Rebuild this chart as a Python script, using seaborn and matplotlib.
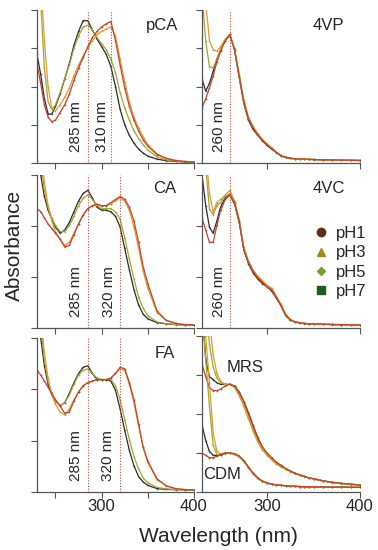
import matplotlib
matplotlib.use('Agg')
import matplotlib.pyplot as plt
from matplotlib.lines import Line2D
import pandas as pd
import seaborn as sns

# wavelength grid shared by every panel (nm)
wl = [230, 234, 238, 242, 246, 250, 255, 260, 265, 270, 275, 280, 285, 290, 295,
      300, 305, 310, 315, 320, 325, 330, 335, 340, 345, 350, 360, 370, 380, 390, 400]

ph_labels = ['pH1', 'pH3', 'pH5', 'pH7']

# normalised absorbance (1 = top of the panel)
pca_ph1 = [0.65, 0.52, 0.38, 0.30, 0.27, 0.28, 0.33, 0.38, 0.45, 0.54, 0.62, 0.69, 0.76, 0.82, 0.86,
           0.89, 0.91, 0.925, 0.80, 0.64, 0.49, 0.37, 0.28, 0.21, 0.15, 0.11, 0.055, 0.03, 0.016, 0.01, 0.007]
pca_ph3 = [1.6, 1.2, 0.80, 0.50, 0.36, 0.34, 0.38, 0.43, 0.49, 0.57, 0.64, 0.70, 0.75, 0.80, 0.84,
           0.86, 0.875, 0.89, 0.83, 0.68, 0.53, 0.40, 0.30, 0.23, 0.17, 0.12, 0.06, 0.03, 0.017, 0.01, 0.007]
pca_ph5 = [1.5, 1.05, 0.62, 0.40, 0.35, 0.38, 0.46, 0.55, 0.64, 0.75, 0.83, 0.89, 0.90, 0.87, 0.82,
           0.78, 0.74, 0.68, 0.59, 0.46, 0.36, 0.28, 0.21, 0.16, 0.12, 0.085, 0.04, 0.02, 0.012, 0.008, 0.006]
pca_ph7 = [0.71, 0.58, 0.42, 0.32, 0.32, 0.37, 0.45, 0.55, 0.65, 0.77, 0.86, 0.93, 0.93, 0.87, 0.81,
           0.76, 0.71, 0.63, 0.50, 0.35, 0.25, 0.18, 0.13, 0.09, 0.065, 0.045, 0.025, 0.015, 0.01, 0.007, 0.005]

vp_ph1 = [0.36, 0.42, 0.49, 0.57, 0.66, 0.73, 0.80, 0.84, 0.74, 0.57, 0.40, 0.29, 0.23, 0.185, 0.15,
          0.12, 0.095, 0.07, 0.048, 0.037, 0.031, 0.028, 0.026, 0.025, 0.024, 0.023, 0.021, 0.02, 0.019, 0.018, 0.017]
vp_ph3 = [1.4, 1.05, 0.80, 0.74, 0.73, 0.76, 0.81, 0.84, 0.75, 0.58, 0.41, 0.30, 0.24, 0.19, 0.155,
          0.125, 0.10, 0.072, 0.05, 0.038, 0.032, 0.028, 0.026, 0.025, 0.024, 0.023, 0.021, 0.02, 0.019, 0.018, 0.017]
vp_ph5 = [1.1, 0.80, 0.63, 0.62, 0.68, 0.74, 0.80, 0.83, 0.74, 0.57, 0.40, 0.29, 0.235, 0.19, 0.15,
          0.12, 0.095, 0.07, 0.048, 0.037, 0.031, 0.028, 0.026, 0.025, 0.024, 0.023, 0.021, 0.02, 0.019, 0.018, 0.017]
vp_ph7 = [0.55, 0.47, 0.52, 0.60, 0.68, 0.74, 0.80, 0.84, 0.74, 0.56, 0.39, 0.28, 0.22, 0.18, 0.145,
          0.115, 0.09, 0.068, 0.046, 0.036, 0.03, 0.027, 0.025, 0.024, 0.023, 0.022, 0.02, 0.019, 0.018, 0.017, 0.016]

ca_ph1 = [0.78, 0.76, 0.72, 0.68, 0.65, 0.62, 0.58, 0.53, 0.54, 0.61, 0.68, 0.74, 0.78, 0.80, 0.81,
          0.80, 0.80, 0.82, 0.84, 0.86, 0.84, 0.79, 0.70, 0.56, 0.40, 0.29, 0.11, 0.05, 0.03, 0.022, 0.02]
ca_ph3 = [1.5, 1.2, 0.95, 0.80, 0.70, 0.63, 0.58, 0.54, 0.56, 0.62, 0.68, 0.74, 0.78, 0.80, 0.80,
          0.80, 0.80, 0.81, 0.83, 0.85, 0.83, 0.77, 0.66, 0.52, 0.37, 0.26, 0.10, 0.05, 0.03, 0.022, 0.02]
ca_ph5 = [1.4, 1.1, 0.90, 0.79, 0.72, 0.67, 0.63, 0.63, 0.67, 0.73, 0.80, 0.85, 0.87, 0.84, 0.80,
          0.78, 0.78, 0.78, 0.76, 0.71, 0.59, 0.45, 0.32, 0.20, 0.13, 0.08, 0.04, 0.028, 0.023, 0.02, 0.018]
ca_ph7 = [1.3, 1.0, 0.86, 0.77, 0.71, 0.66, 0.62, 0.64, 0.69, 0.76, 0.83, 0.88, 0.90, 0.85, 0.79,
          0.77, 0.77, 0.76, 0.73, 0.66, 0.52, 0.38, 0.25, 0.15, 0.09, 0.06, 0.035, 0.027, 0.022, 0.02, 0.018]

vc_ph1 = [0.72, 0.64, 0.56, 0.56, 0.67, 0.77, 0.84, 0.87, 0.82, 0.70, 0.51, 0.43, 0.37, 0.33, 0.30,
          0.27, 0.25, 0.20, 0.15, 0.085, 0.055, 0.04, 0.035, 0.03, 0.028, 0.027, 0.025, 0.023, 0.022, 0.021, 0.02]
vc_ph3 = [1.5, 1.15, 0.88, 0.76, 0.82, 0.84, 0.87, 0.90, 0.83, 0.71, 0.53, 0.44, 0.38, 0.34, 0.31,
          0.28, 0.26, 0.21, 0.155, 0.09, 0.056, 0.04, 0.035, 0.03, 0.028, 0.027, 0.025, 0.023, 0.022, 0.021, 0.02]
vc_ph5 = [1.3, 1.05, 0.78, 0.74, 0.80, 0.82, 0.86, 0.88, 0.82, 0.70, 0.52, 0.43, 0.37, 0.33, 0.30,
          0.27, 0.25, 0.20, 0.15, 0.085, 0.055, 0.04, 0.035, 0.03, 0.028, 0.027, 0.025, 0.023, 0.022, 0.021, 0.02]
vc_ph7 = [1.0, 0.80, 0.66, 0.62, 0.70, 0.79, 0.85, 0.87, 0.81, 0.69, 0.51, 0.42, 0.36, 0.32, 0.29,
          0.27, 0.24, 0.195, 0.145, 0.08, 0.052, 0.038, 0.033, 0.029, 0.027, 0.026, 0.024, 0.022, 0.021, 0.02, 0.019]

fa_ph1 = [0.79, 0.76, 0.72, 0.68, 0.64, 0.60, 0.56, 0.51, 0.52, 0.59, 0.65, 0.69, 0.71, 0.72, 0.73,
          0.73, 0.73, 0.74, 0.77, 0.81, 0.80, 0.71, 0.60, 0.44, 0.29, 0.20, 0.085, 0.04, 0.022, 0.016, 0.014]
fa_ph3 = [1.5, 1.15, 0.90, 0.74, 0.63, 0.57, 0.52, 0.50, 0.54, 0.60, 0.65, 0.69, 0.71, 0.72, 0.73,
          0.73, 0.73, 0.74, 0.77, 0.80, 0.79, 0.70, 0.58, 0.43, 0.29, 0.19, 0.08, 0.04, 0.022, 0.016, 0.014]
fa_ph5 = [1.4, 1.1, 0.86, 0.72, 0.64, 0.59, 0.56, 0.58, 0.63, 0.70, 0.76, 0.79, 0.80, 0.77, 0.74,
          0.73, 0.73, 0.73, 0.69, 0.60, 0.47, 0.34, 0.23, 0.15, 0.09, 0.06, 0.03, 0.02, 0.016, 0.014, 0.013]
fa_ph7 = [1.3, 1.0, 0.82, 0.70, 0.63, 0.59, 0.56, 0.58, 0.64, 0.71, 0.77, 0.81, 0.82, 0.77, 0.73,
          0.73, 0.73, 0.72, 0.66, 0.54, 0.40, 0.27, 0.17, 0.10, 0.065, 0.043, 0.022, 0.017, 0.015, 0.014, 0.013]

mrs_ph1 = [0.82, 0.74, 0.67, 0.65, 0.65, 0.66, 0.68, 0.69, 0.68, 0.64, 0.58, 0.51, 0.43, 0.35, 0.29,
           0.25, 0.22, 0.19, 0.17, 0.15, 0.135, 0.12, 0.11, 0.10, 0.09, 0.085, 0.072, 0.062, 0.055, 0.05, 0.045]
mrs_ph3 = [1.8, 1.4, 1.1, 0.88, 0.76, 0.71, 0.69, 0.69, 0.67, 0.62, 0.55, 0.48, 0.40, 0.33, 0.28,
           0.24, 0.21, 0.185, 0.165, 0.15, 0.135, 0.12, 0.11, 0.10, 0.09, 0.085, 0.072, 0.062, 0.055, 0.05, 0.045]
mrs_ph5 = [1.6, 1.2, 0.95, 0.80, 0.73, 0.70, 0.69, 0.69, 0.67, 0.62, 0.55, 0.47, 0.39, 0.32, 0.27,
           0.235, 0.205, 0.18, 0.16, 0.145, 0.13, 0.118, 0.108, 0.098, 0.09, 0.083, 0.07, 0.06, 0.053, 0.048, 0.043]
mrs_ph7 = [1.2, 0.85, 0.74, 0.72, 0.70, 0.69, 0.69, 0.69, 0.68, 0.64, 0.58, 0.50, 0.42, 0.34, 0.285,
           0.245, 0.215, 0.19, 0.17, 0.15, 0.135, 0.12, 0.11, 0.10, 0.09, 0.085, 0.072, 0.062, 0.055, 0.05, 0.045]

cdm_ph1 = [0.25, 0.235, 0.22, 0.22, 0.23, 0.24, 0.25, 0.25, 0.245, 0.23, 0.20, 0.16, 0.12, 0.09, 0.07,
           0.058, 0.05, 0.046, 0.043, 0.04, 0.038, 0.036, 0.035, 0.034, 0.033, 0.033, 0.032, 0.031, 0.031, 0.03, 0.03]
cdm_ph3 = [1.4, 1.0, 0.70, 0.38, 0.26, 0.245, 0.25, 0.25, 0.245, 0.23, 0.20, 0.16, 0.12, 0.09, 0.07,
           0.058, 0.05, 0.046, 0.043, 0.04, 0.038, 0.036, 0.035, 0.034, 0.033, 0.033, 0.032, 0.031, 0.031, 0.03, 0.03]
cdm_ph5 = [1.15, 0.85, 0.55, 0.30, 0.24, 0.24, 0.245, 0.25, 0.24, 0.225, 0.195, 0.155, 0.115, 0.085, 0.067,
           0.056, 0.049, 0.045, 0.042, 0.04, 0.038, 0.036, 0.035, 0.034, 0.033, 0.033, 0.032, 0.031, 0.031, 0.03, 0.03]
cdm_ph7 = [0.43, 0.33, 0.26, 0.235, 0.235, 0.24, 0.25, 0.25, 0.245, 0.23, 0.20, 0.16, 0.12, 0.09, 0.07,
           0.058, 0.05, 0.046, 0.043, 0.04, 0.038, 0.036, 0.035, 0.034, 0.033, 0.033, 0.032, 0.031, 0.031, 0.03, 0.03]

line_colors = {'pH1': '#c8402a', 'pH3': '#dc9c2e', 'pH5': '#a4a534', 'pH7': '#2b2b2b'}
marker_colors = {'pH1': '#5e3018', 'pH3': '#a08a14', 'pH5': '#7d9a2a', 'pH7': '#1d5c1d'}
legend_markers = {'pH1': 'o', 'pH3': '^', 'pH5': 'D', 'pH7': 's'}

sns.set_style('ticks')
plt.rcParams['font.family'] = ['Liberation Sans', 'DejaVu Sans']

fig = plt.figure(figsize=(3.78, 5.5), dpi=100)
W, H = 378, 550


def make_ax(x0, y_top, w, h):
    return fig.add_axes([x0 / W, 1 - (y_top + h) / H, w / W, h / H])


def draw_curves(ax, curves):
    # curves: list of (label, values); pH7 first so pH1 ends on top
    rows = []
    for lab, vals in curves:
        for x, v in zip(wl, vals):
            rows.append({'wl': x, 'A': v, 'pH': lab})
    df = pd.DataFrame(rows)
    for lab, _ in curves:
        sub = df[df['pH'] == lab]
        sns.lineplot(data=sub, x='wl', y='A', color=line_colors[lab], lw=0.9,
                     sort=False, estimator=None, ax=ax, legend=False)
        sns.scatterplot(data=sub, x='wl', y='A', color=marker_colors[lab], s=1.5,
                        linewidth=0, alpha=0.8, ax=ax, legend=False)


def style_ax(ax, yticks, xticks, xlabels=None):
    ax.set_xlim(230, 400)
    ax.set_ylim(0, 1)
    ax.set_yticks(yticks)
    ax.set_yticklabels([])
    ax.set_xticks(xticks)
    if xlabels is None:
        ax.set_xticklabels([])
    else:
        ax.set_xticklabels(xlabels, fontsize=12)
    ax.set_xlabel('')
    ax.set_ylabel('')
    for s in ['top', 'right']:
        ax.spines[s].set_visible(False)
    for s in ['left', 'bottom']:
        ax.spines[s].set_color('#555555')
        ax.spines[s].set_linewidth(0.9)
    ax.tick_params(direction='out', length=4, width=0.8, color='#555555', pad=1)


def vlines(ax, positions):
    for p in positions:
        ax.axvline(p, color='#c0503a', ls=(0, (1, 1.5)), lw=0.8, zorder=3)


def rot_label(ax, x, text):
    ax.text(x, 0.235, text, rotation=90, ha='center', va='center', fontsize=11,
            transform=ax.get_xaxis_transform())


q4 = [0, 0.25, 0.5, 0.75, 1]
q3 = [0, 1 / 3, 2 / 3, 1]
left_ticks = [250, 300, 350, 400]

# pCA
ax = make_ax(37, 10, 157, 153)
draw_curves(ax, [('pH7', pca_ph7), ('pH5', pca_ph5), ('pH3', pca_ph3), ('pH1', pca_ph1)])
vlines(ax, [285, 310])
style_ax(ax, q4, left_ticks)
rot_label(ax, 272, '285 nm')
rot_label(ax, 300, '310 nm')
ax.text(0.80, 0.90, 'pCA', transform=ax.transAxes, ha='center', va='center', fontsize=12)

# 4VP
ax = make_ax(202, 10, 158, 153)
draw_curves(ax, [('pH7', vp_ph7), ('pH5', vp_ph5), ('pH3', vp_ph3), ('pH1', vp_ph1)])
vlines(ax, [260])
style_ax(ax, q4, [300, 400])
rot_label(ax, 248, '260 nm')
ax.text(0.80, 0.90, '4VP', transform=ax.transAxes, ha='center', va='center', fontsize=12)

# CA
ax = make_ax(37, 175, 157, 153)
draw_curves(ax, [('pH7', ca_ph7), ('pH5', ca_ph5), ('pH3', ca_ph3), ('pH1', ca_ph1)])
vlines(ax, [285, 320])
style_ax(ax, q3, left_ticks)
rot_label(ax, 272, '285 nm')
rot_label(ax, 308, '320 nm')
ax.text(0.815, 0.915, 'CA', transform=ax.transAxes, ha='center', va='center', fontsize=12)

# 4VC
ax = make_ax(202, 175, 158, 153)
draw_curves(ax, [('pH7', vc_ph7), ('pH5', vc_ph5), ('pH3', vc_ph3), ('pH1', vc_ph1)])
vlines(ax, [260])
style_ax(ax, q3, [300, 400])
rot_label(ax, 248, '260 nm')
ax.text(0.80, 0.915, '4VC', transform=ax.transAxes, ha='center', va='center', fontsize=12)
handles = [Line2D([], [], ls='none', marker=legend_markers[p], color=marker_colors[p],
                  markersize=6 if p != 'pH5' else 4.5) for p in ph_labels]
ax.legend(handles, ph_labels, loc='upper left', bbox_to_anchor=(0.66, 0.72), frameon=False,
          fontsize=12, handlelength=0.8, handletextpad=0.5, labelspacing=0.25, borderpad=0)

# FA
ax = make_ax(37, 338, 157, 154)
draw_curves(ax, [('pH7', fa_ph7), ('pH5', fa_ph5), ('pH3', fa_ph3), ('pH1', fa_ph1)])
vlines(ax, [285, 320])
style_ax(ax, q3, left_ticks, ['', '300', '', '400'])
rot_label(ax, 272, '285 nm')
rot_label(ax, 307, '320 nm')
ax.text(0.815, 0.90, 'FA', transform=ax.transAxes, ha='center', va='center', fontsize=12)

# MRS / CDM media
ax = make_ax(202, 336, 158, 156)
draw_curves(ax, [('pH7', mrs_ph7), ('pH5', mrs_ph5), ('pH3', mrs_ph3), ('pH1', mrs_ph1)])
draw_curves(ax, [('pH7', cdm_ph7), ('pH5', cdm_ph5), ('pH3', cdm_ph3), ('pH1', cdm_ph1)])
style_ax(ax, q4, [300, 400], ['300', '400'])
ax.text(0.27, 0.80, 'MRS', transform=ax.transAxes, ha='center', va='center', fontsize=12)
ax.text(0.13, 0.11, 'CDM', transform=ax.transAxes, ha='center', va='center', fontsize=12)

fig.text(14 / W, 1 - 245 / H, 'Absorbance', rotation=90, ha='center', va='center', fontsize=15)
fig.text(218 / W, 1 - 537 / H, 'Wavelength (nm)', ha='center', va='center', fontsize=15)

fig.savefig('out.png', dpi=100)
